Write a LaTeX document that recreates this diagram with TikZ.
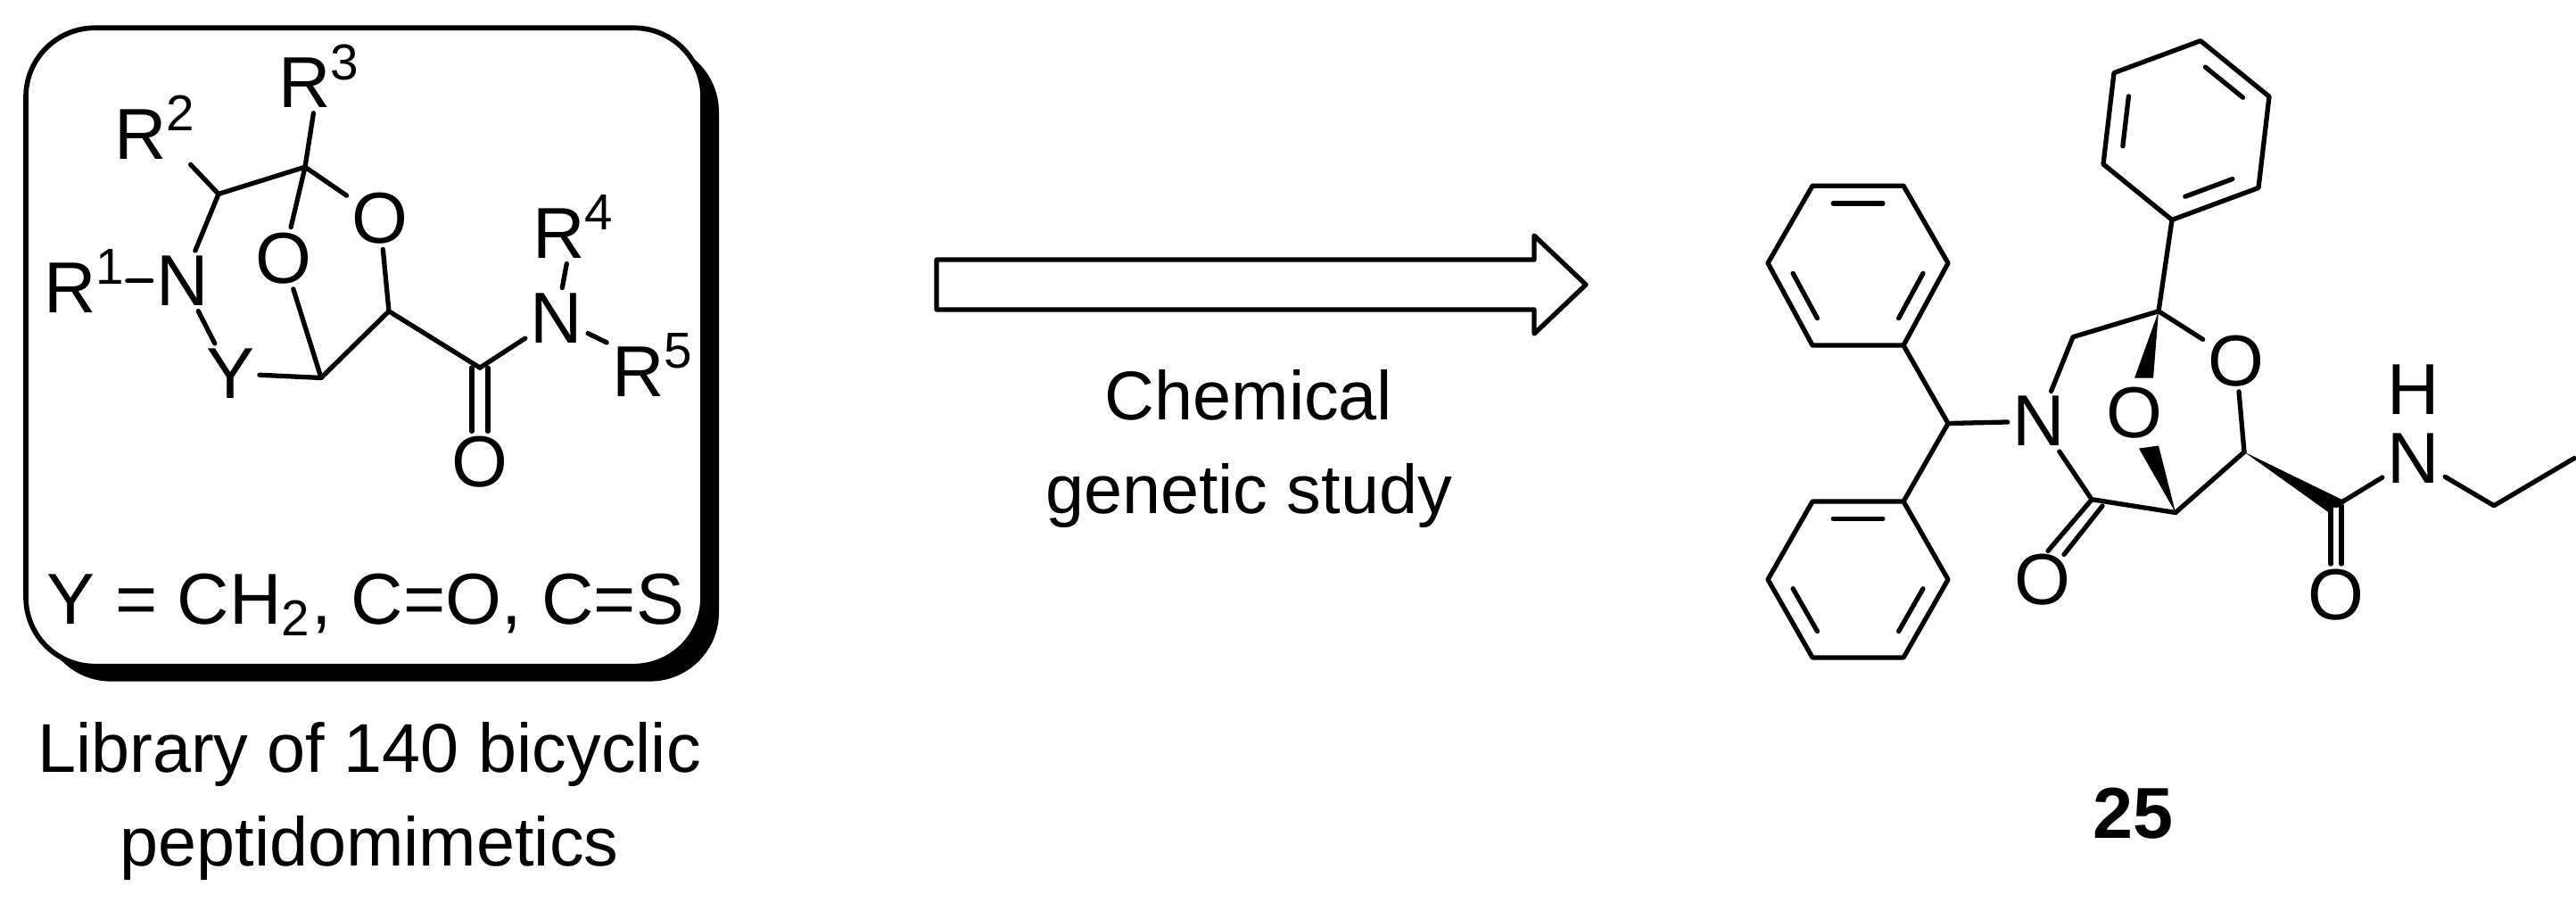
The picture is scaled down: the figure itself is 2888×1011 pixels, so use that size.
\documentclass[tikz,border=0pt]{standalone}
\usepackage{fontspec}
\setmainfont{Liberation Sans}
\usetikzlibrary{calc}
\begin{document}
\begin{tikzpicture}[x=0.01cm,y=-0.01cm,
  bond/.style={line width=1.5pt},
  atom/.style={inner sep=1.5pt,font=\fontsize{23}{26}\selectfont},
  txt/.style={font=\fontsize{22}{30}\selectfont,align=center},
  line cap=round,line join=round]
\useasboundingbox (0,0) rectangle (2888,1011);
\begin{scope}[shift={(0,1)},yscale=0.945]
% box
\fill[rounded corners=22] (47,50) rectangle (806,807);
\draw[line width=1.6pt,fill=white,rounded corners=22] (29,32) rectangle (788,789);
% left molecule
\coordinate (c3) at (342,197);
\coordinate (c2) at (245,229);
\coordinate (cb) at (360,447);
\coordinate (c5) at (436,368);
\coordinate (cc) at (538,435);
\node[atom] (r3) at (358,89) {R\textsuperscript{3}};
\node[atom] (r2) at (174,150) {R\textsuperscript{2}};
\node[atom] (n1) at (205,332) {N};
\node[atom] (r1) at (95,332) {R\textsuperscript{1}};
\node[atom] (y) at (258,442) {Y};
\node[atom] (ob) at (318,305) {O};
\node[atom] (or) at (426,258) {O};
\node[atom] (oc) at (538,547) {O};
\node[atom] (n2) at (624,376) {N};
\node[atom] (r4) at (643,268) {R\textsuperscript{4}};
\node[atom] (r5) at (732,432) {R\textsuperscript{5}};
\draw[bond] (r3) -- (c3); \draw[bond] (r2) -- (c2); \draw[bond] (c2) -- (c3);
\draw[bond] (c2) -- (n1); \draw[bond] (r1.east) ++(-4,0) -- (n1.west);
\draw[bond] (n1) -- (y); \draw[bond] (y) -- (cb);
\draw[bond] (c3) -- (ob); \draw[bond] (ob) -- (cb);
\draw[bond] (c3) -- (or); \draw[bond] (or) -- (c5);
\draw[bond] (c5) -- (cb); \draw[bond] (c5) -- (cc);
\draw[bond] ($(cc)+(-9,0)$) -- ($(oc.north)+(-9,0)$);
\draw[bond] ($(cc)+(9,0)$) -- ($(oc.north)+(9,0)$);
\draw[bond] (cc) -- (n2); \draw[bond] (n2) -- (r4); \draw[bond] (n2) -- (r5);
\node[atom] (ylab) at (410,716) {Y = CH\textsubscript{2}, C=O, C=S};
\end{scope}
\node[txt] (lib) at (414,898) {Library of 140 bicyclic\\peptidomimetics};
% arrow
\draw[line width=1.5pt] (1050,291) -- (1720,291) -- (1720,264) -- (1778,319) -- (1720,374) -- (1720,347) -- (1050,347) -- cycle;
\node[txt] (cg) at (1400,503) {Chemical\\genetic study};
% right molecule
\begin{scope}[shift={(0,9)},yscale=0.781]
\coordinate (p1) at (2467,47); \coordinate (p2) at (2544,127); \coordinate (p3) at (2532,258);
\coordinate (p4) at (2435,304); \coordinate (p5) at (2358,224); \coordinate (p6) at (2370,93);
\coordinate (pc) at (2451,176);
\coordinate (a1) at (2134,484); \coordinate (a2) at (2184,366); \coordinate (a3) at (2134,255);
\coordinate (a4) at (2032,255); \coordinate (a5) at (1982,366); \coordinate (a6) at (2032,484);
\coordinate (ac) at (2083,370);
\coordinate (b1) at (2134,708); \coordinate (b2) at (2184,820); \coordinate (b3) at (2134,932);
\coordinate (b4) at (2032,932); \coordinate (b5) at (1982,820); \coordinate (b6) at (2032,708);
\coordinate (bc) at (2083,820);
\draw[bond] (p1)--(p2)--(p3)--(p4)--(p5)--(p6)--cycle;
\draw[bond] (a1)--(a2)--(a3)--(a4)--(a5)--(a6)--cycle;
\draw[bond] (b1)--(b2)--(b3)--(b4)--(b5)--(b6)--cycle;
\foreach \r/\u/\v in {p/1/2,p/3/4,p/5/6,a/1/2,a/3/4,a/5/6,b/6/1,b/2/3,b/4/5}{
  \draw[bond] ($(\r c)!0.78!($(\r\u)!0.15!(\r\v)$)$) -- ($(\r c)!0.78!($(\r\u)!0.85!(\r\v)$)$);
}
\coordinate (cq) at (2420,435);
\coordinate (ch2) at (2324,472);
\coordinate (ch) at (2184,596);
\coordinate (ck) at (2345,705);
\coordinate (cbr) at (2439,724);
\coordinate (c5r) at (2516,637);
\coordinate (ca) at (2619,714);
\coordinate (e1) at (2796,714);
\coordinate (e2) at (2886,646);
\node[atom] (nr) at (2286,593) {N};
\node[atom] (obr) at (2393,581) {O};
\node[atom] (orr) at (2507,506) {O};
\node[atom] (oar) at (2619,842) {O};
\node[atom] (nh) at (2706,646) {N};
\node[atom] (hh) at (2706,548) {H};
\draw[bond] (p4) -- (cq); \draw[bond] (cq) -- (ch2) -- (nr);
\draw[bond] (ch) -- (nr); \draw[bond] (ch) -- (a1); \draw[bond] (ch) -- (b1);
\draw[bond] (nr) -- (ck); \draw[bond] (ck) -- (cbr);
\draw[bond] (cq) -- (orr); \draw[bond] (orr) -- (c5r); \draw[bond] (c5r) -- (cbr);
\fill (cq) -- (2414,531) -- (2393,531) -- cycle;
\fill (cbr) -- (2420,628) -- (2398,632) -- cycle;
\fill (c5r) -- (2625,705) -- (2611,724) -- cycle;
\draw[bond] ($(ca)+(-6,0)$) -- ($(oar.north)+(-6,0)$);
\draw[bond] ($(ca)+(6,0)$) -- ($(oar.north)+(6,0)$);
\draw[bond] (ca) -- (nh);
\draw[bond] (nh) -- (e1) -- (e2);
\end{scope}
\node[atom] (okr) at (2290,650) {O};
\coordinate (ck1) at (2345,560);
\coordinate (ck2) at (2357,567);
\draw[bond] (ck1) -- ($(okr.north)+(6,2)$);
\draw[bond] (ck2) -- ($(okr.north)+(24,6)$);
\node[font=\bfseries\fontsize{23}{26}\selectfont] (n25) at (2391,912) {25};
\end{tikzpicture}
\end{document}
